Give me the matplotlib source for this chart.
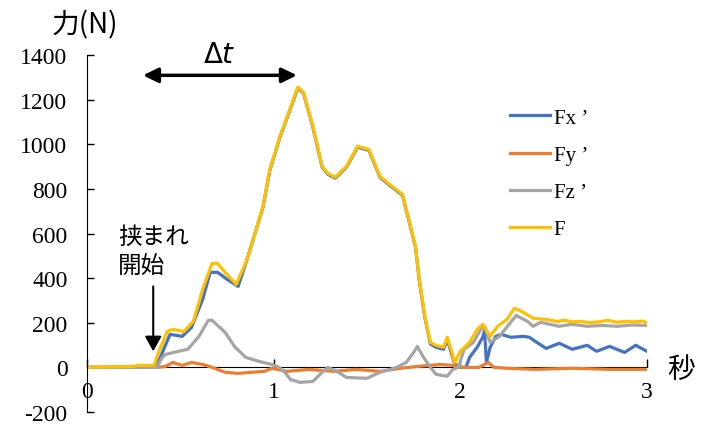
import matplotlib
matplotlib.use("Agg")
import matplotlib.pyplot as plt

# time (s) / force (N)
t_fx = [0, 0.2, 0.37, 0.445, 0.51, 0.56, 0.62, 0.66, 0.70, 0.75, 0.81, 0.86, 0.943, 0.98,
        1.034, 1.087, 1.13, 1.16, 1.21, 1.26, 1.29, 1.33, 1.39, 1.45, 1.51, 1.57, 1.62,
        1.69, 1.72, 1.76, 1.78, 1.81, 1.84, 1.87, 1.91, 1.93, 1.95, 1.97, 2.00, 2.03,
        2.05, 2.09, 2.12, 2.13, 2.14, 2.16, 2.19, 2.22, 2.27, 2.34, 2.37, 2.41, 2.46,
        2.53, 2.60, 2.68, 2.73, 2.80, 2.88, 2.94, 3.0]
fx = [0, 0, 0, 148, 139, 179, 305, 426, 426, 395, 363, 490, 718, 884,
      1032, 1153, 1252, 1229, 1077, 897, 866, 848, 897, 987, 973, 852, 817,
      772, 673, 539, 391, 224, 105, 90, 81, 125, 70, 15, 0, 0,
      45, 90, 135, 165, 22, 90, 139, 148, 135, 139, 135, 112, 85,
      108, 81, 99, 72, 94, 67, 99, 72]

t_fy = [0, 0.375, 0.42, 0.46, 0.51, 0.56, 0.62, 0.67, 0.74, 0.81, 0.88, 0.95, 0.99,
        1.07, 1.19, 1.32, 1.44, 1.57, 1.68, 1.77, 1.89, 1.96, 2.01, 2.10, 2.15, 2.18,
        2.25, 2.40, 2.60, 2.80, 3.0]
fy = [0, 0, 4, 22, 9, 22, 13, 0, -22, -27, -22, -18, -4,
      -18, -9, -18, -9, -18, -4, 4, 13, 9, 0, 0, 22, 0,
      -4, -9, -4, -9, -9]

t_fz = [0, 0.375, 0.40, 0.42, 0.49, 0.54, 0.60, 0.65, 0.67, 0.74, 0.79, 0.85, 0.92,
        0.99, 1.03, 1.06, 1.09, 1.14, 1.21, 1.26, 1.29, 1.34, 1.39, 1.50, 1.57, 1.66,
        1.71, 1.75, 1.77, 1.80, 1.84, 1.87, 1.93, 1.96, 1.99, 2.02, 2.07, 2.11, 2.13,
        2.16, 2.21, 2.27, 2.30, 2.36, 2.39, 2.43, 2.53, 2.60, 2.68, 2.76, 2.84, 2.92, 3.0]
fz = [0, 0, 40, 58, 72, 81, 139, 211, 211, 157, 94, 45, 27,
      13, 0, -22, -54, -67, -63, -22, 0, -18, -45, -49, -22, 0,
      22, 67, 94, 49, 0, -31, -40, -9, 0, 81, 112, 170, 184,
      112, 139, 202, 233, 206, 184, 202, 184, 193, 184, 188, 184, 190, 188]

t_f = [0, 0.1, 0.25, 0.27, 0.36, 0.38, 0.43, 0.46, 0.52, 0.57, 0.62, 0.67, 0.70, 0.74,
       0.80, 0.862, 0.943, 0.98, 1.034, 1.087, 1.13, 1.16, 1.21, 1.26, 1.29, 1.33, 1.39,
       1.45, 1.51, 1.57, 1.62, 1.69, 1.72, 1.76, 1.78, 1.81, 1.84, 1.87, 1.91, 1.93,
       1.95, 1.97, 2.00, 2.05, 2.09, 2.12, 2.16, 2.20, 2.25, 2.29, 2.33, 2.39, 2.46,
       2.52, 2.56, 2.60, 2.65, 2.69, 2.74, 2.79, 2.84, 2.88, 2.94, 2.98, 3.0]
f = [0, 2, 4, 9, 9, 60, 161, 170, 161, 206, 350, 466, 466, 425,
     372, 493, 722, 888, 1036, 1157, 1256, 1233, 1081, 901, 870, 852, 901,
     991, 977, 856, 821, 776, 677, 543, 395, 229, 112, 99, 90, 135,
     81, 22, 72, 112, 170, 193, 139, 184, 215, 265, 250, 220, 215,
     206, 211, 204, 206, 200, 204, 211, 202, 206, 204, 208, 197]

series_labels = ["Fx ’", "Fy ’", "Fz ’", "F"]
series_colors = ["#4472C4", "#ED7D31", "#A5A5A5", "#FFC000"]

jp = ["Noto Sans CJK JP", "DejaVu Sans"]
plt.rcParams["font.family"] = "Liberation Serif"
plt.rcParams["axes.unicode_minus"] = False
plt.rcParams["mathtext.fontset"] = "dejavusans"

fig = plt.figure(figsize=(7.1, 4.27), dpi=100)
ax = fig.add_axes([0.1225, 0.0328, 0.7887, 0.836])

for tt, vals, lab, col in zip([t_fx, t_fy, t_fz, t_f], [fx, fy, fz, f],
                              series_labels, series_colors):
    ax.plot(tt, vals, color=col, lw=2.3, label=lab)

ax.set_xlim(0, 3)
ax.set_ylim(-200, 1400)
ax.set_xticks([0, 1, 2, 3])
ax.set_yticks(range(-200, 1401, 200))
ax.spines["top"].set_visible(False)
ax.spines["right"].set_visible(False)
ax.spines["bottom"].set_position(("data", 0))
ax.spines["bottom"].set_zorder(1)
ax.tick_params(axis="y", direction="in", length=5, width=1, pad=14, labelsize=17)
ax.tick_params(axis="x", direction="in", length=6, width=1, pad=10, labelsize=17)

leg = ax.legend(loc="upper left", bbox_to_anchor=(510 / 710, 1 - 109 / 427),
                bbox_transform=fig.transFigure, frameon=False, borderpad=0,
                borderaxespad=0, handlelength=1.9, handletextpad=0.2,
                labelspacing=0.85, prop={"size": 15})

fig.text(85 / 710, 1 - 25 / 427, "力(N)", family=jp, fontsize=20,
         ha="center", va="center")
fig.text(681 / 710, 1 - 370 / 427, "秒", family=jp, fontsize=20,
         ha="center", va="center")

# Δt arrow
ax.annotate("", xy=(0.30, 1309), xytext=(1.125, 1309),
            arrowprops=dict(arrowstyle="<|-|>,head_length=0.45,head_width=0.22",
                            mutation_scale=20, lw=2.5, color="black",
                            shrinkA=0, shrinkB=0))
ax.text(0.71, 1400, r"$\Delta t$", fontsize=20, ha="center", va="center",
        clip_on=False)

# start of pinching
ax.annotate("", xy=(0.355, 72), xytext=(0.355, 363),
            arrowprops=dict(arrowstyle="-|>,head_length=0.45,head_width=0.25",
                            mutation_scale=20, lw=1.5, color="black",
                            shrinkA=0, shrinkB=0))
ax.text(0.166, 587, "挟まれ", family=jp, fontsize=17, ha="left", va="center")
ax.text(0.166, 457, "開始", family=jp, fontsize=17, ha="left", va="center")

fig.savefig("out.png", dpi=100)
